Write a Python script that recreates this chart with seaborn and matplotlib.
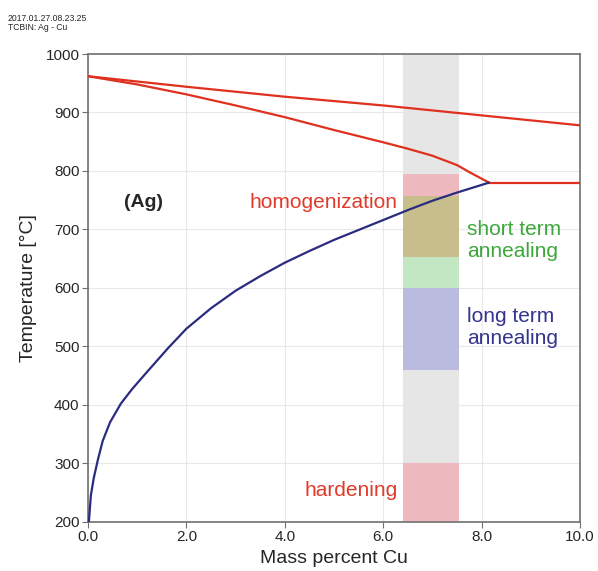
import matplotlib
matplotlib.use('Agg')
import matplotlib.pyplot as plt
import seaborn as sns
import pandas as pd

# phase boundaries (mass % Cu, temperature in C)
liquidus_x = [0.0, 2.0, 4.0, 6.0, 8.0, 10.0]
liquidus_t = [962, 944, 927, 912, 895, 878]

solidus_x = [0.0, 1.0, 2.0, 3.0, 4.0, 5.0, 6.0, 6.5, 7.0, 7.5, 7.75, 8.15]
solidus_t = [962, 948, 931, 912, 892, 870, 849, 838, 826, 810, 798, 780]

eutectic_x = [8.15, 10.0]
eutectic_t = [780, 780]

solvus_x = [0.02, 0.06, 0.12, 0.2, 0.3, 0.45, 0.67, 0.9, 1.2, 1.63, 2.0, 2.5,
            3.0, 3.5, 4.0, 4.5, 5.0, 5.5, 6.0, 6.53, 7.0, 7.5, 8.15]
solvus_t = [200, 245, 275, 305, 338, 370, 402, 427, 456, 497, 530, 565,
            595, 620, 643, 663, 682, 699, 716, 734, 749, 763, 780]

# heat treatment windows in the 6.4-7.55 % Cu band
band_left = 6.4
band_right = 7.55
window_names = ['full', 'homogenization', 'overlap', 'short term', 'long term', 'hardening']
window_low = [200, 757, 653, 600, 460, 200]
window_high = [1000, 795, 757, 653, 600, 300]
window_colors = ['#e6e6e6', '#edb9be', '#c8be8c', '#c3e6c3', '#bbbbe0', '#edb9be']

sns.set_style('whitegrid')
plt.rcParams['font.family'] = ['Liberation Sans', 'DejaVu Sans']

fig = plt.figure(figsize=(5.98, 5.71), dpi=100)
ax = fig.add_axes([0.147, 0.0864, 0.823, 0.819])

for lo, hi, c in zip(window_low, window_high, window_colors):
    ax.bar((band_left + band_right) / 2, hi - lo, width=band_right - band_left,
           bottom=lo, color=c, edgecolor='none', zorder=1)

red = '#e0301e'
for xs, ts in [(liquidus_x, liquidus_t), (solidus_x, solidus_t), (eutectic_x, eutectic_t)]:
    d = pd.DataFrame({'x': xs, 't': ts})
    sns.lineplot(data=d, x='x', y='t', sort=False, color=red, lw=1.6, ax=ax, zorder=3)

d = pd.DataFrame({'x': solvus_x, 't': solvus_t})
sns.lineplot(data=d, x='x', y='t', sort=False, color='#2b2b80', lw=1.6, ax=ax, zorder=3)

ax.set_xlim(0, 10)
ax.set_ylim(200, 1000)
ax.set_xticks([0, 2, 4, 6, 8, 10])
ax.set_xticklabels(['0.0', '2.0', '4.0', '6.0', '8.0', '10.0'])
ax.set_yticks(range(200, 1001, 100))
ax.grid(True, color='#e8e8e8', lw=0.8)
ax.set_axisbelow(True)
for s in ax.spines.values():
    s.set_color('#707070')
    s.set_linewidth(1.2)
ax.tick_params(axis='both', labelsize=11, length=4, color='#707070', direction='out',
               bottom=True, left=True, pad=2)
ax.set_xlabel('Mass percent Cu', fontsize=14, labelpad=4)
ax.set_ylabel('Temperature [°C]', fontsize=14, labelpad=6)

ax.text(1.12, 746, '(Ag)', fontsize=14, fontweight='bold', ha='center', va='center')
ax.text(6.29, 746, 'homogenization', fontsize=15, color='#e03a2a', ha='right', va='center')
ax.text(7.7, 681, 'short term\nannealing', fontsize=15, color='#3ca83c', ha='left', va='center')
ax.text(7.7, 532, 'long term\nannealing', fontsize=15, color='#34348f', ha='left', va='center')
ax.text(6.29, 253, 'hardening', fontsize=15, color='#e03a2a', ha='right', va='center')

fig.text(0.013, 0.968, '2017.01.27.08.23.25', fontsize=6.2, va='center')
fig.text(0.013, 0.952, 'TCBIN: Ag - Cu', fontsize=6.2, va='center')

fig.savefig('out.png', dpi=100)
